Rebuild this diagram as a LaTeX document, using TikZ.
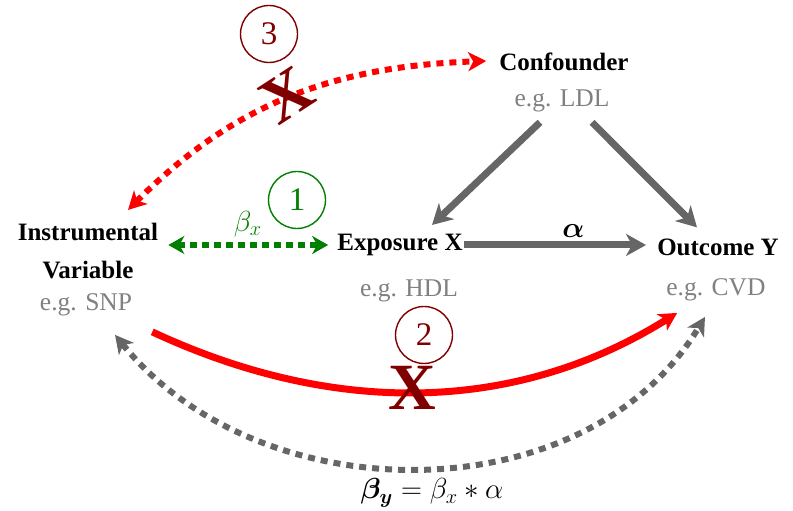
\RequirePackage{fix-cm}
\documentclass[tikz,border=0pt]{standalone}
\usepackage{amsmath,bm}
\usepackage{fontspec}
\setmainfont{Liberation Serif}
\usetikzlibrary{arrows.meta}
\definecolor{dred}{HTML}{800000}
\definecolor{lgray}{HTML}{666666}
\definecolor{tgray}{HTML}{808080}
\definecolor{gr}{HTML}{008000}
\tikzset{
  stip/.tip={Stealth[length=18pt,width=19pt,inset=5pt]},
  gtip/.tip={Stealth[length=20pt,width=22pt,inset=6pt]},
  ctip/.tip={Stealth[length=16pt,width=18pt,inset=5pt]}
}
\begin{document}
\begin{tikzpicture}[x=1pt,y=1pt,
  title/.style={font=\fontsize{25}{38}\selectfont\bfseries, align=center, inner sep=1pt},
  sub/.style={font=\fontsize{25.5}{28}\selectfont, text=tgray, inner sep=1pt},
  garrow/.style={draw=lgray, line width=7pt, -{gtip}},
  reddot/.style={draw=red, line width=6pt, dash pattern=on 7pt off 6pt},
  graydot/.style={draw=lgray, line width=6pt, dash pattern=on 7pt off 6pt},
  greendot/.style={draw=gr, line width=6pt, dash pattern=on 7pt off 5pt},
  numcirc/.style={circle, draw, line width=1.4pt, minimum size=57pt, inner sep=0pt, font=\fontsize{33}{33}\selectfont},
  bigx/.style={text=dred, font=\fontsize{66}{66}\selectfont\bfseries, inner sep=0pt},
  mlabel/.style={font=\fontsize{29}{32}\selectfont}
]
\useasboundingbox (0,0) rectangle (793,511);
% nodes
\node[title] (iv) at (88,260) {Instrumental\\Variable};
\node[sub] (ivs) at (86,206) {e.g. SNP};
\node[title] (ex) at (400,266) {Exposure X};
\node[sub] (exs) at (409,220) {e.g. HDL};
\node[title] (out) at (718,264) {Outcome Y};
\node[sub] (outs) at (716,221) {e.g. CVD};
\node[title] (conf) at (564,449) {Confounder};
\node[sub] (confs) at (562,410) {e.g. LDL};
% gray arrows
\draw[garrow] ([xshift=-22pt,yshift=-9pt]confs.south) -- ([xshift=32pt,yshift=8pt]ex.north);
\draw[garrow] ([xshift=30pt,yshift=-9pt]confs.south) -- ([xshift=-21pt,yshift=10pt]out.north);
\draw[garrow, shorten >=10pt] (ex.east) -- (ex.east -| out.west)
  node[pos=0.57, above=1pt, mlabel, text=black] (alpha) {$\bm{\alpha}$};
% green
\draw[greendot, {ctip}-{ctip}, shorten <=9pt, shorten >=8pt]
  (ex.west -| iv.east) -- (ex.west)
  node[midway, above=2pt, mlabel, text=gr] (bx) {$\beta_x$};
% red dotted
\draw[reddot, {stip}-{stip}] ([xshift=40pt,yshift=12pt]iv.north) to[out=45,in=182] ([xshift=-12pt,yshift=1pt]conf.west);
% red solid
\draw[draw=red, line width=7pt, -{stip}] ([xshift=19pt,yshift=-14.5pt]ivs.south east) to[out=-25,in=212,looseness=0.95] ([xshift=12pt,yshift=-10.5pt]outs.south west);
% gray dotted
\draw[graydot, {stip}-{stip}] ([xshift=29pt,yshift=-17.5pt]ivs.south) to[out=-51,in=239] ([xshift=-11pt,yshift=-14.5pt]outs.south);
\node[mlabel] (eq) at (432,18) {$\bm{\beta_y} = \beta_x * \alpha$};
% circles
\node[numcirc, draw=dred, text=dred] (c3) at (269,477) {3};
\node[numcirc, draw=gr, text=gr] (c1) at (297,311) {1};
\node[numcirc, draw=dred, text=dred] (c2) at (424,176) {2};
% crosses
\node[bigx, rotate=33] (x3) at (287,416) {X};
\node[bigx] (x2) at (412,123) {X};
\end{tikzpicture}
\end{document}
